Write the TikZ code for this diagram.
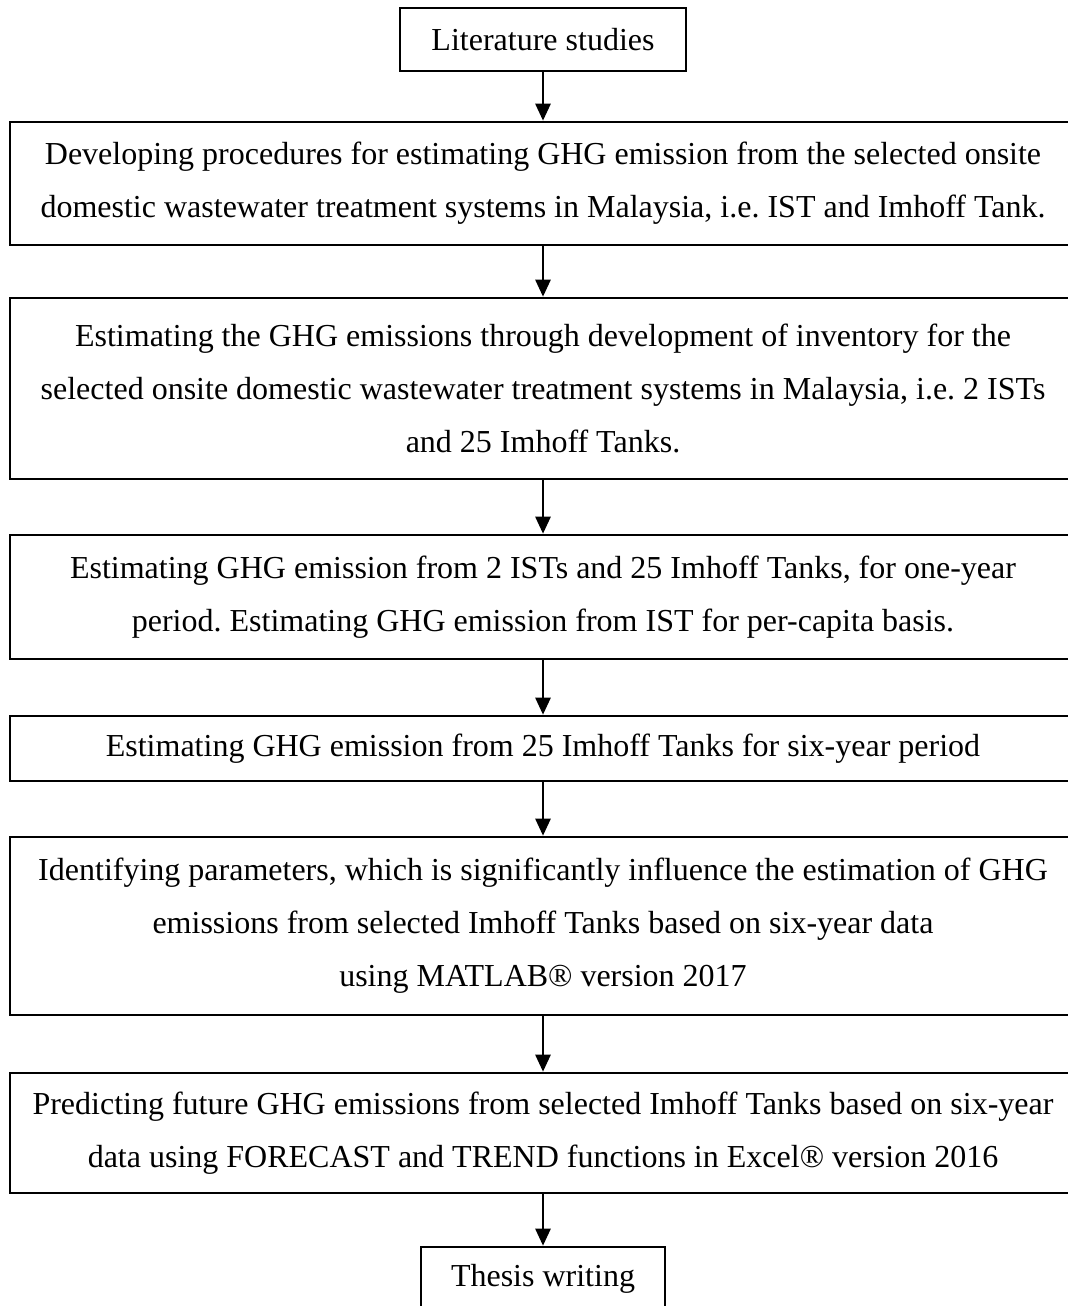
\documentclass[tikz,border=0pt]{standalone}
\usepackage{fontspec}
\setmainfont{Liberation Serif}
\usetikzlibrary{arrows.meta}
\newcommand\boxfont{\fontsize{32bp}{53bp}\selectfont\frenchspacing}
\begin{document}
\begin{tikzpicture}[x=1bp,y=-1bp,
  line width=2.6bp,>={Triangle[length=17bp,width=15bp]},
  main node/.style={rectangle,draw,align=center,inner sep=0pt,font=\boxfont},
  wide node/.style={main node,minimum width=1066bp}]
  \useasboundingbox (0,0) rectangle (1067,1306);
  \node[main node,minimum width=286bp,minimum height=63bp] (1) at (543,39.5) {Literature studies};
  \node[wide node,minimum height=123bp] (2) at (543,183.5) {Developing procedures for estimating GHG emission from the selected onsite\\
    domestic wastewater treatment systems in Malaysia, i.e. IST and Imhoff Tank.};
  \node[wide node,minimum height=181bp] (3) at (543,388.5) {Estimating the GHG emissions through development of inventory for the\\
    selected onsite domestic wastewater treatment systems in Malaysia, i.e. 2 ISTs\\
    and 25 Imhoff Tanks.};
  \node[wide node,minimum height=124bp] (4) at (543,597) {Estimating GHG emission from 2 ISTs and 25 Imhoff Tanks, for one-year\\
    period. Estimating GHG emission from IST for per-capita basis.};
  \node[wide node,minimum height=65bp] (5) at (543,748.5) {Estimating GHG emission from 25 Imhoff Tanks for six-year period};
  \node[wide node,minimum height=178bp] (6) at (543,926) {Identifying parameters, which is significantly influence the estimation of GHG\\
    emissions from selected Imhoff Tanks based on six-year data\\
    using MATLAB® version 2017};
  \node[wide node,minimum height=120bp] (7) at (543,1133) {Predicting future GHG emissions from selected Imhoff Tanks based on six-year\\
    data using FORECAST and TREND functions in Excel® version 2016};
  \node[main node,minimum width=244bp,minimum height=63bp] (8) at (543,1278.5) {Thesis writing};

  \path[->]
   (1) edge (2)
   (2) edge (3)
   (3) edge (4)
   (4) edge (5)
   (5) edge (6)
   (6) edge (7)
   (7) edge (8);
\end{tikzpicture}
\end{document}
